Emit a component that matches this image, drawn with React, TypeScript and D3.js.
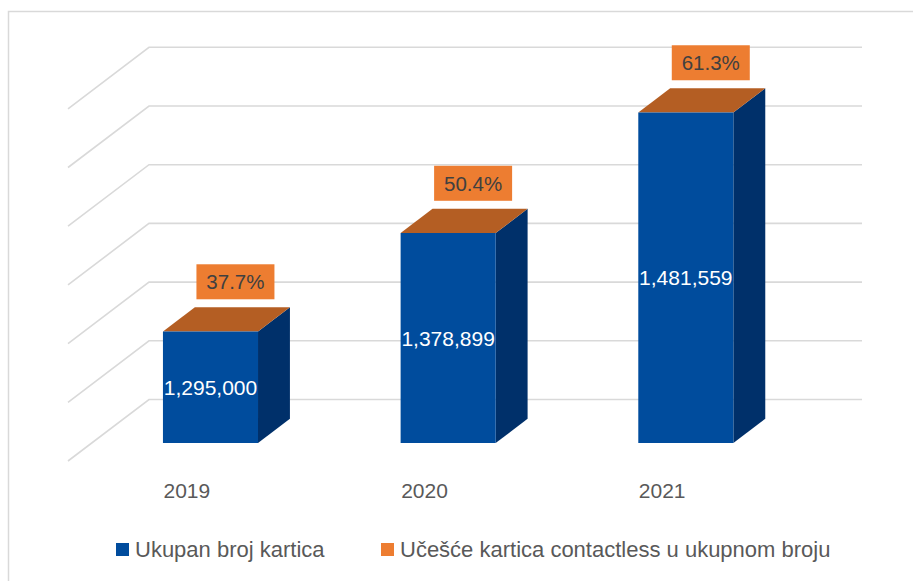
import React from "react";
import * as d3 from "d3";

const categories = ["2019", "2020", "2021"];
const totalCards = [1295000, 1378899, 1481559];
const contactlessShare = ["37.7%", "50.4%", "61.3%"];
const legendLabels = ["Ukupan broj kartica", "Učešće kartica contactless u ukupnom broju"];

const W = 913;
const H = 581;
const FONT = "'Liberation Sans', Arial, sans-serif";

const COL_FRONT = "#004C9D";
const COL_SIDE = "#00306A";
const COL_TOP = "#B45E23";
const COL_LABEL = "#ED7D31";
const COL_GRID = "#D9D9D9";

// oblique depth vector (back wall offset)
const DX = 81;
const DY = -61.5;
const Z_FRONT = 0.292;
const Z_BACK = 0.686;

export default function App() {
  const x = d3.scaleBand<string>().domain(categories).range([68, 781]).paddingInner(0.6).paddingOuter(0.3);
  const y = d3.scaleLinear().domain([1200000, 1500000]).range([461, 461 - 6 * 58.7]);
  const ticks = y.ticks(6);
  const proj = (xw: number, v: number, z: number): [number, number] => [xw + DX * z, y(v) + DY * z];
  const fmt = d3.format(",");
  const pts = (arr: [number, number][]) => arr.map((p) => p.join(",")).join(" ");
  const x0 = x.range()[0];
  const x1 = x.range()[1];

  return (
    <svg width={W} height={H} style={{ position: "absolute", left: 0, top: 0 }} fontFamily={FONT}>
      <rect x={0} y={0} width={W} height={H} fill="#fff" />
      <rect x={8.5} y={11.5} width={1000} height={1000} fill="#fff" stroke={COL_GRID} strokeWidth={1.5} />
      {ticks.map((t) => (
        <polyline
          key={t}
          points={pts([proj(x0, t, 0), proj(x0, t, 1), proj(x1, t, 1)])}
          fill="none"
          stroke={COL_GRID}
          strokeWidth={1.6}
        />
      ))}
      {categories.map((c, i) => {
        const xl = x(c) as number;
        const xr = xl + x.bandwidth();
        const v = totalCards[i];
        const base = y.domain()[0];
        const fTL = proj(xl, v, Z_FRONT);
        const fTR = proj(xr, v, Z_FRONT);
        const fBR = proj(xr, base, Z_FRONT);
        const fBL = proj(xl, base, Z_FRONT);
        const bTL = proj(xl, v, Z_BACK);
        const bTR = proj(xr, v, Z_BACK);
        const bBR = proj(xr, base, Z_BACK);
        const frontCx = (fTL[0] + fTR[0]) / 2;
        const frontCy = (fTL[1] + fBL[1]) / 2;
        const topCx = (fTL[0] + bTR[0]) / 2 + 9;
        const boxW = 78;
        const boxH = 35;
        const boxBottom = bTL[1] - 8;
        return (
          <g key={c}>
            <polygon points={pts([fTR, bTR, bBR, fBR])} fill={COL_SIDE} />
            <polygon points={pts([fTL, bTL, bTR, fTR])} fill={COL_TOP} />
            <polygon points={pts([fTL, fTR, fBR, fBL])} fill={COL_FRONT} />
            <text x={frontCx} y={frontCy} dy="0.36em" textAnchor="middle" fill="#fff" fontSize={21}>
              {fmt(v)}
            </text>
            <rect x={topCx - boxW / 2} y={boxBottom - boxH} width={boxW} height={boxH} fill={COL_LABEL} />
            <text x={topCx} y={boxBottom - boxH / 2} dy="0.36em" textAnchor="middle" fill="#404040" fontSize={20.5}>
              {contactlessShare[i]}
            </text>
            <text x={xl + x.bandwidth() / 2} y={498} textAnchor="middle" fill="#595959" fontSize={21}>
              {c}
            </text>
          </g>
        );
      })}
      <g>
        <rect x={116} y={543} width={13} height={13} fill={COL_FRONT} />
        <text x={135} y={557} fill="#595959" fontSize={22}>{legendLabels[0]}</text>
        <rect x={381} y={543} width={13} height={13} fill={COL_LABEL} />
        <text x={400} y={557} fill="#595959" fontSize={22}>{legendLabels[1]}</text>
      </g>
    </svg>
  );
}
